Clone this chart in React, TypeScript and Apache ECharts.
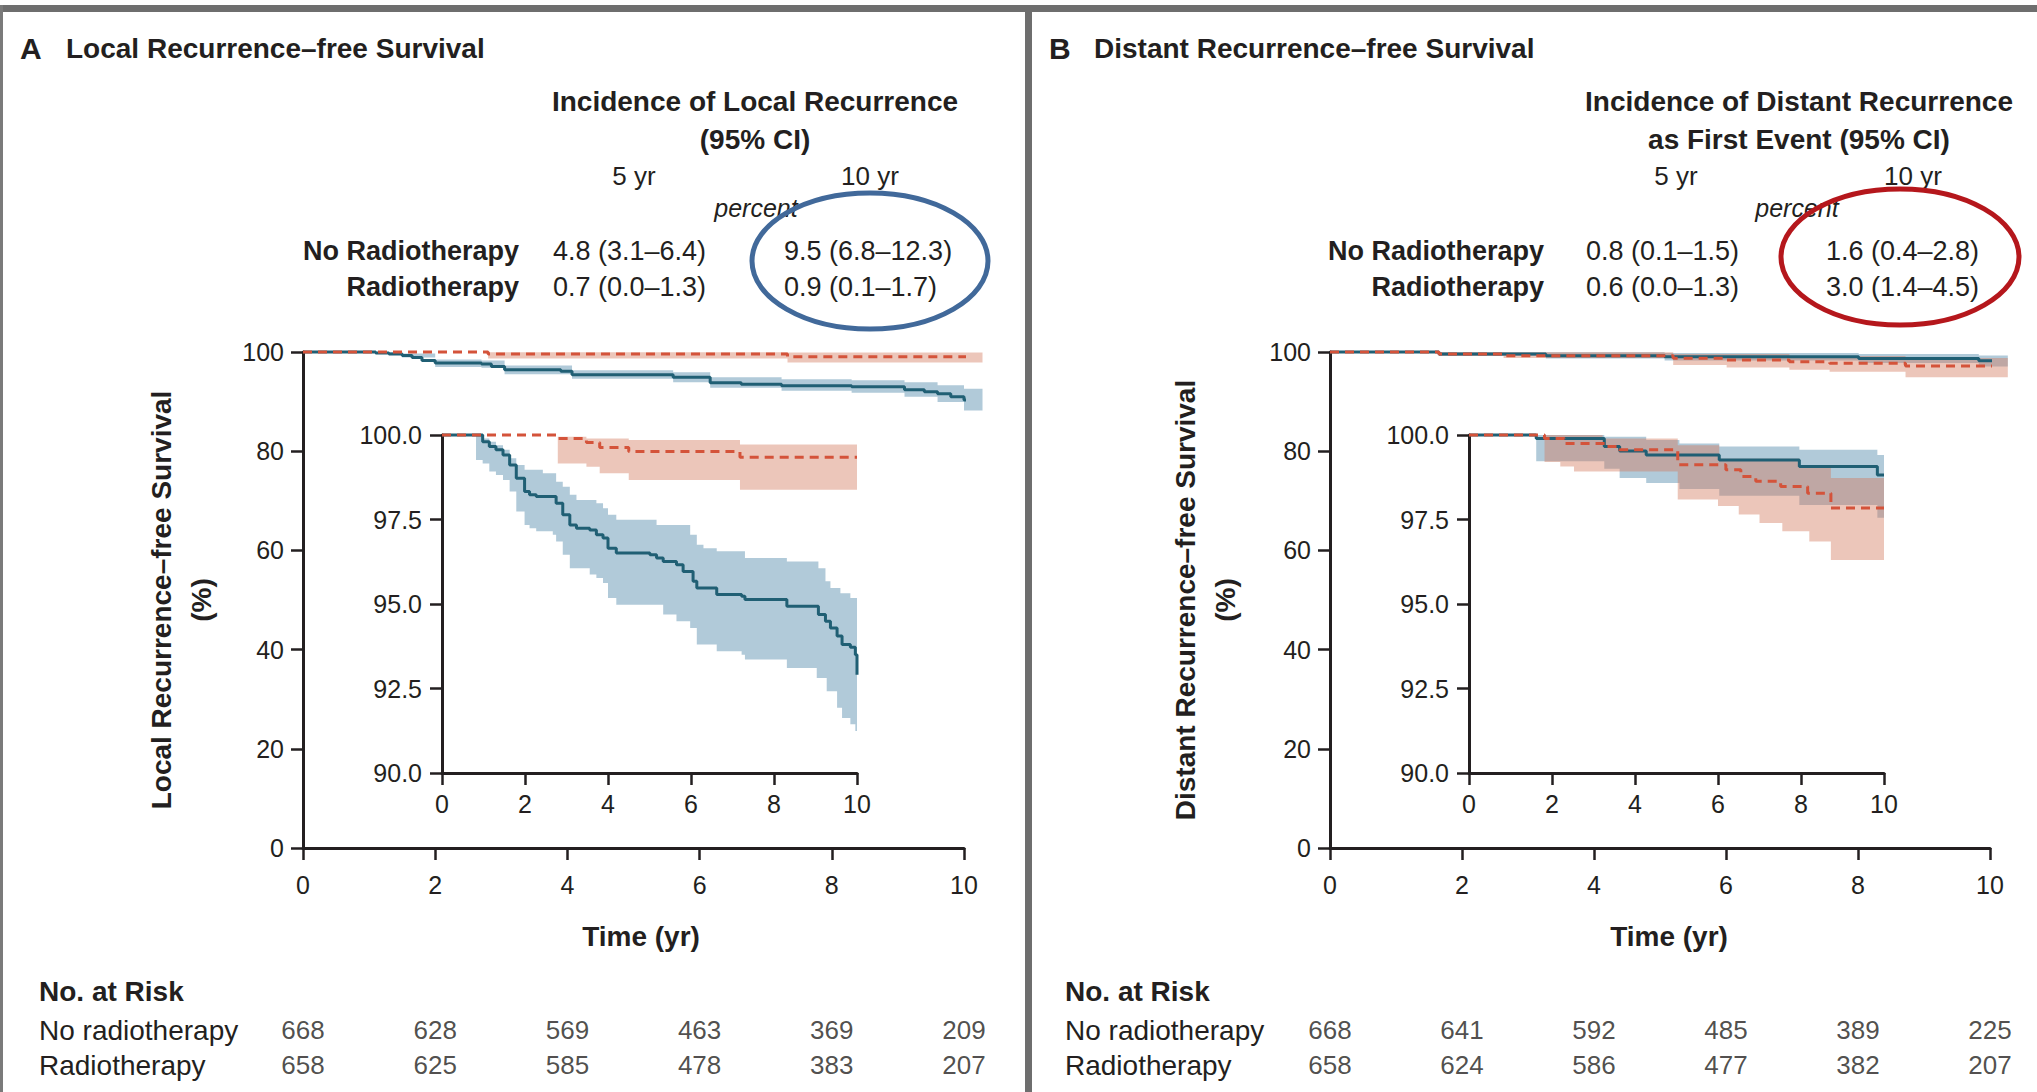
import React, { useEffect, useRef } from "react";
import * as echarts from "echarts";

const FONT = "'Liberation Sans', Arial, sans-serif";
const INK = "#231f20";
const BLUE = "#205f74";
const RED = "#d4533a";
const BLUE_BAND = "rgba(100,150,180,0.5)";
const RED_BAND = "rgba(210,120,90,0.42)";

type Pt = [number, number];

// ---------- Panel A, main plot ----------
const mainA_noRT_line: Pt[] = [[0,100],[0.9,100],[1.1,99.8],[1.3,99.6],[1.5,99.3],[1.65,98.9],[1.8,98.3],[2.0,97.8],[2.7,97.6],[2.85,97.1],[3.05,96.4],[3.9,96.1],[4.07,95.4],[5.6,94.9],[6.16,93.8],[6.63,93.5],[7.24,93.2],[8.3,93.0],[9.1,92.4],[9.4,92.0],[9.6,91.6],[9.8,91.0],[10.0,90.3],[10.28,90.3]];
const mainA_noRT_upper: Pt[] = [[0,100],[0.9,100],[1.5,99.7],[2.0,98.5],[2.7,98.3],[3.05,97.3],[4.07,96.3],[5.6,95.9],[6.16,94.9],[7.24,94.5],[8.3,94.3],[9.1,93.9],[9.6,93.3],[10.0,92.6],[10.28,92.6]];
const mainA_noRT_lower: Pt[] = [[0,100],[0.9,99.8],[1.5,98.9],[2.0,97.0],[2.7,96.8],[3.05,95.5],[4.07,94.6],[5.6,93.9],[6.16,92.8],[7.24,92.2],[8.3,91.8],[9.1,91.0],[9.6,89.9],[10.0,88.2],[10.28,87.5]];
const mainA_rt_line: Pt[] = [[0,100],[2.8,99.6],[7.33,99.06],[10.28,99.06]];
const mainA_rt_upper: Pt[] = [[2.8,99.95],[7.33,99.9],[10.28,99.9]];
const mainA_rt_lower: Pt[] = [[2.8,98.7],[7.33,97.9],[10.28,97.9]];

// ---------- Panel A, inset ----------
const insetA_noRT_line: Pt[] = [[0,100],[0.82,100],[0.98,99.8],[1.14,99.66],[1.3,99.56],[1.47,99.41],[1.63,99.11],[1.79,98.72],[1.99,98.33],[2.11,98.23],[2.27,98.18],[2.75,97.98],[2.91,97.64],[3.08,97.34],[3.24,97.24],[3.56,97.19],[3.72,97.05],[3.88,96.95],[4.0,96.65],[4.2,96.51],[5.01,96.46],[5.17,96.36],[5.33,96.26],[5.65,96.16],[5.81,95.96],[6.05,95.67],[6.14,95.47],[6.62,95.28],[7.22,95.23],[7.3,95.13],[8.31,94.93],[9.07,94.69],[9.24,94.49],[9.36,94.29],[9.52,94.05],[9.64,93.8],[9.84,93.72],[9.96,93.5],[10.0,92.91]];
const insetA_noRT_upper: Pt[] = [[0,100],[0.82,100],[0.98,99.9],[1.14,99.8],[1.3,99.7],[1.47,99.56],[1.63,99.31],[1.79,99.11],[1.99,98.97],[2.43,98.87],[2.75,98.62],[2.91,98.47],[3.08,98.23],[3.24,98.08],[3.72,97.98],[3.88,97.83],[4.0,97.64],[4.2,97.49],[5.17,97.34],[5.98,97.05],[6.14,96.75],[6.3,96.65],[6.62,96.56],[7.3,96.36],[8.31,96.26],[9.07,96.06],[9.24,95.67],[9.36,95.47],[9.6,95.32],[9.84,95.18],[10.0,95.08]];
const insetA_noRT_lower: Pt[] = [[0,100],[0.82,99.26],[0.98,99.16],[1.14,98.92],[1.3,98.82],[1.47,98.67],[1.63,98.33],[1.79,97.74],[1.99,97.34],[2.11,97.24],[2.27,97.15],[2.67,97.05],[2.75,96.85],[2.91,96.46],[3.08,96.06],[3.56,95.87],[3.72,95.77],[3.88,95.62],[4.0,95.18],[4.2,94.98],[5.33,94.69],[5.65,94.49],[5.98,94.29],[6.14,93.8],[6.62,93.6],[7.22,93.5],[7.3,93.36],[8.31,93.11],[9.03,92.81],[9.27,92.42],[9.52,91.93],[9.64,91.63],[9.84,91.44],[9.96,91.24],[10.0,90.55]];
const insetA_rt_line: Pt[] = [[0,100],[2.79,99.9],[3.48,99.78],[3.8,99.63],[4.5,99.51],[7.18,99.34],[10.0,99.34]];
const insetA_rt_upper: Pt[] = [[2.79,99.95],[3.48,99.9],[4.5,99.85],[7.18,99.72],[10.0,99.72]];
const insetA_rt_lower: Pt[] = [[2.79,99.16],[3.48,99.06],[3.8,98.87],[4.5,98.67],[7.18,98.38],[10.0,98.38]];

// ---------- Panel B, main plot ----------
const mainB_noRT_line: Pt[] = [[0,100],[1.65,99.6],[3.27,99.26],[5.07,99.06],[8.01,98.7],[9.83,98.25],[10.27,98.25]];
const mainB_noRT_upper: Pt[] = [[0,100],[1.65,99.95],[5.07,99.8],[8.01,99.6],[9.83,99.3],[10.27,99.3]];
const mainB_noRT_lower: Pt[] = [[0,100],[1.65,99.2],[3.27,98.7],[5.07,98.3],[8.01,97.8],[9.83,97.1],[10.27,97.0]];
const mainB_rt_line: Pt[] = [[0,100],[1.65,99.6],[2.63,99.26],[5.2,98.72],[6.01,98.39],[6.96,98.05],[7.57,97.72],[8.72,97.18],[10.27,97.18]];
const mainB_rt_upper: Pt[] = [[0,100],[1.65,99.95],[5.2,99.6],[6.96,99.2],[8.72,98.8],[10.27,98.8]];
const mainB_rt_lower: Pt[] = [[0,100],[1.65,99.2],[2.63,98.8],[5.2,97.4],[6.01,96.9],[6.96,96.4],[7.57,96.0],[8.72,94.9],[10.27,94.9]];

// ---------- Panel B, inset ----------
const insetB_noRT_line: Pt[] = [[0,100],[1.62,99.9],[3.26,99.66],[3.63,99.53],[4.27,99.41],[6.03,99.26],[7.96,99.07],[9.84,98.82],[10.0,98.82]];
const insetB_noRT_upper: Pt[] = [[1.62,100],[3.26,99.95],[4.27,99.85],[5.07,99.75],[6.03,99.66],[7.96,99.56],[9.84,99.41],[10.0,99.41]];
const insetB_noRT_lower: Pt[] = [[1.62,99.22],[2.0,99.22],[3.26,99.0],[3.63,98.73],[4.27,98.58],[5.07,98.4],[6.03,98.2],[7.96,97.93],[9.84,97.55],[10.0,97.55]];
const insetB_rt_line: Pt[] = [[0,100],[1.82,99.9],[2.3,99.75],[3.3,99.66],[3.62,99.56],[5.03,99.12],[6.19,98.97],[6.55,98.77],[6.91,98.63],[7.51,98.48],[8.16,98.28],[8.72,97.84],[10.0,97.84]];
const insetB_rt_upper: Pt[] = [[1.82,100],[3.22,99.9],[5.03,99.7],[6.03,99.3],[7.96,99.1],[8.72,98.73],[10.0,98.73]];
const insetB_rt_lower: Pt[] = [[1.82,99.2],[2.2,99.07],[2.53,98.92],[5.03,98.09],[6.0,97.9],[6.5,97.65],[7.0,97.4],[7.55,97.15],[8.2,96.85],[8.72,96.3],[10.0,96.3]];

// ---------- numbers at risk ----------
const riskTimes = [0, 2, 4, 6, 8, 10];
const riskA_noRT = [668, 628, 569, 463, 369, 209];
const riskA_rt = [658, 625, 585, 478, 383, 207];
const riskB_noRT = [668, 641, 592, 485, 389, 225];
const riskB_rt = [658, 624, 586, 477, 382, 207];
const riskRows = ["No radiotherapy", "Radiotherapy"];

// ---------- incidence tables ----------
const incRows = ["No Radiotherapy", "Radiotherapy"];
const incA5 = ["4.8 (3.1–6.4)", "0.7 (0.0–1.3)"];
const incA10 = ["9.5 (6.8–12.3)", "0.9 (0.1–1.7)"];
const incB5 = ["0.8 (0.1–1.5)", "0.6 (0.0–1.3)"];
const incB10 = ["1.6 (0.4–2.8)", "3.0 (1.4–4.5)"];

function stepPts(arr: Pt[]): Pt[] {
  const out: Pt[] = [];
  for (let i = 0; i < arr.length; i++) {
    out.push([arr[i][0], arr[i][1]]);
    const nx = i + 1 < arr.length ? arr[i + 1][0] : arr[i][0];
    out.push([nx, arr[i][1]]);
  }
  return out;
}

function band(axis: number, upper: Pt[], lower: Pt[], color: string) {
  return {
    type: "custom",
    xAxisIndex: axis,
    yAxisIndex: axis,
    silent: true,
    clip: false,
    z: 1,
    data: [[upper[0][0], upper[0][1]]],
    renderItem: (_p: any, api: any) => {
      const up = stepPts(upper);
      const lo = stepPts(lower).reverse();
      const pts = up.concat(lo).map((p) => api.coord(p));
      return { type: "polygon", shape: { points: pts }, style: { fill: color } };
    },
  };
}

function line(axis: number, data: Pt[], color: string, dashed: boolean, z: number) {
  return {
    type: "line",
    xAxisIndex: axis,
    yAxisIndex: axis,
    data,
    step: "end",
    symbol: "none",
    showSymbol: false,
    clip: false,
    silent: true,
    z,
    lineStyle: { color, width: 3, type: dashed ? [9, 6] : "solid" },
  };
}

function xAxis(grid: number, margin: number) {
  return {
    type: "value",
    gridIndex: grid,
    min: 0,
    max: 10,
    interval: 2,
    axisLine: { show: true, onZero: false, lineStyle: { color: INK, width: 3 } },
    axisTick: { show: true, length: 12, lineStyle: { color: INK, width: 2.5 } },
    axisLabel: { color: INK, fontSize: 25, fontFamily: FONT, margin },
    splitLine: { show: false },
  };
}

function yAxis(grid: number, min: number, max: number, interval: number, margin: number, dec: boolean) {
  return {
    type: "value",
    gridIndex: grid,
    min,
    max,
    interval,
    axisLine: { show: true, onZero: false, lineStyle: { color: INK, width: 3 } },
    axisTick: { show: true, length: 12, lineStyle: { color: INK, width: 2.5 } },
    axisLabel: {
      color: INK,
      fontSize: 25,
      fontFamily: FONT,
      margin,
      formatter: (v: number) => (dec ? v.toFixed(1) : String(v)),
    },
    splitLine: { show: false },
  };
}

function riskSeries(axis: number, rows: number[][]) {
  const data: any[] = [];
  rows.forEach((row, r) => row.forEach((v, i) => data.push([riskTimes[i], r, v])));
  return {
    type: "scatter",
    xAxisIndex: axis,
    yAxisIndex: axis,
    symbolSize: 1,
    silent: true,
    itemStyle: { color: "rgba(0,0,0,0)" },
    data,
    label: {
      show: true,
      position: "inside",
      formatter: (p: any) => String(p.value[2]),
      fontSize: 26,
      fontFamily: FONT,
      color: INK,
    },
  };
}

function txt(text: string, x: number, y: number, o: any = {}) {
  return {
    type: "text",
    x,
    y,
    z: 20,
    silent: true,
    rotation: o.rot || 0,
    style: {
      text,
      fill: o.fill || INK,
      fontFamily: FONT,
      fontSize: o.size || 26,
      fontWeight: o.weight || "normal",
      fontStyle: o.italic ? "italic" : "normal",
      align: o.align || "left",
      verticalAlign: "middle",
      textAlign: o.align || "left",
      textVerticalAlign: "middle",
      lineHeight: o.lh || undefined,
    },
  };
}

function panelTexts(p: {
  letter: string; title: string; lx: number; tx: number;
  head1: string; head2: string; hx: number; c5: number; c10: number; px: number;
  rowR: number; v5x: number; v10x: number; v5: string[]; v10: string[];
  ell: { cx: number; cy: number; rx: number; ry: number; color: string };
  yname: string; ynx: number; timeX: number; riskX: number;
}) {
  const els: any[] = [];
  els.push(txt(p.letter, p.lx, 48, { size: 30, weight: "bold" }));
  els.push(txt(p.title, p.tx, 48, { size: 28, weight: "bold" }));
  els.push(txt(p.head1, p.hx, 101, { size: 28, weight: "bold", align: "center" }));
  els.push(txt(p.head2, p.hx, 139, { size: 28, weight: "bold", align: "center" }));
  els.push(txt("5 yr", p.c5, 176, { size: 26, align: "center" }));
  els.push(txt("10 yr", p.c10, 176, { size: 26, align: "center" }));
  els.push(txt("percent", p.px, 208, { size: 25, italic: true, align: "center" }));
  incRows.forEach((r, i) => {
    const y = 251 + i * 36;
    els.push(txt(r, p.rowR, y, { size: 27, weight: "bold", align: "right" }));
    els.push(txt(p.v5[i], p.v5x, y, { size: 27 }));
    els.push(txt(p.v10[i], p.v10x, y, { size: 27 }));
  });
  els.push({
    type: "ellipse",
    z: 30,
    silent: true,
    shape: { cx: p.ell.cx, cy: p.ell.cy, rx: p.ell.rx, ry: p.ell.ry },
    style: { fill: "none", stroke: p.ell.color, lineWidth: 5 },
  });
  els.push(txt(p.yname + "\n(%)", p.ynx, 600, { size: 28, weight: "bold", align: "center", rot: Math.PI / 2, lh: 40 }));
  els.push(txt("Time (yr)", p.timeX, 936, { size: 28, weight: "bold", align: "center" }));
  els.push(txt("No. at Risk", p.riskX, 991, { size: 28, weight: "bold" }));
  riskRows.forEach((r, i) => els.push(txt(r, p.riskX, 1030 + i * 35, { size: 28 })));
  return els;
}

export default function App() {
  const ref = useRef<HTMLDivElement>(null);
  useEffect(() => {
    if (!ref.current) return;
    const chart = echarts.init(ref.current, null, { renderer: "svg" });
    const grids = [
      { left: 303, top: 352, width: 661, height: 496 },
      { left: 442, top: 435, width: 415, height: 338 },
      { left: 1330, top: 352, width: 660, height: 496 },
      { left: 1469, top: 435, width: 415, height: 338 },
      { left: 303, top: 1012.5, width: 661, height: 70 },
      { left: 1330, top: 1012.5, width: 660, height: 70 },
    ];
    const hiddenX = (g: number) => ({ type: "value", gridIndex: g, min: 0, max: 10, show: false });
    const hiddenY = (g: number) => ({ type: "category", gridIndex: g, data: riskRows, inverse: true, show: false });

    const graphic: any[] = [
      { type: "rect", silent: true, z: 0, shape: { x: 0, y: 5, width: 2037, height: 7 }, style: { fill: "#6e6e6e" } },
      { type: "rect", silent: true, z: 0, shape: { x: 0, y: 5, width: 3, height: 1087 }, style: { fill: "#7a7a7a" } },
      { type: "rect", silent: true, z: 0, shape: { x: 1025, y: 5, width: 7, height: 1087 }, style: { fill: "#6e6e6e" } },
      ...panelTexts({
        letter: "A", title: "Local Recurrence–free Survival", lx: 20, tx: 66,
        head1: "Incidence of Local Recurrence", head2: "(95% CI)", hx: 755, c5: 634, c10: 870, px: 756,
        rowR: 519, v5x: 553, v10x: 784, v5: incA5, v10: incA10,
        ell: { cx: 870, cy: 261, rx: 118, ry: 68, color: "#41699a" },
        yname: "Local Recurrence–free Survival", ynx: 181, timeX: 641, riskX: 39,
      }),
      ...panelTexts({
        letter: "B", title: "Distant Recurrence–free Survival", lx: 1049, tx: 1094,
        head1: "Incidence of Distant Recurrence", head2: "as First Event (95% CI)", hx: 1799, c5: 1676, c10: 1913, px: 1797,
        rowR: 1544, v5x: 1586, v10x: 1826, v5: incB5, v10: incB10,
        ell: { cx: 1900, cy: 257, rx: 119, ry: 68, color: "#b5171c" },
        yname: "Distant Recurrence–free Survival", ynx: 1205, timeX: 1669, riskX: 1065,
      }),
    ];

    chart.setOption({
      animation: false,
      backgroundColor: "#ffffff",
      grid: grids.map((g) => ({ ...g, containLabel: false })),
      xAxis: [xAxis(0, 24), xAxis(1, 18), xAxis(2, 24), xAxis(3, 18), hiddenX(4), hiddenX(5)],
      yAxis: [
        yAxis(0, 0, 100, 20, 19, false),
        yAxis(1, 90, 100, 2.5, 20, true),
        yAxis(2, 0, 100, 20, 19, false),
        yAxis(3, 90, 100, 2.5, 20, true),
        hiddenY(4),
        hiddenY(5),
      ],
      series: [
        band(0, mainA_noRT_upper, mainA_noRT_lower, BLUE_BAND),
        band(0, mainA_rt_upper, mainA_rt_lower, RED_BAND),
        line(0, mainA_noRT_line, BLUE, false, 3),
        line(0, mainA_rt_line, RED, true, 4),
        band(1, insetA_noRT_upper, insetA_noRT_lower, BLUE_BAND),
        band(1, insetA_rt_upper, insetA_rt_lower, RED_BAND),
        line(1, insetA_noRT_line, BLUE, false, 3),
        line(1, insetA_rt_line, RED, true, 4),
        band(2, mainB_noRT_upper, mainB_noRT_lower, BLUE_BAND),
        band(2, mainB_rt_upper, mainB_rt_lower, RED_BAND),
        line(2, mainB_noRT_line, BLUE, false, 3),
        line(2, mainB_rt_line, RED, true, 4),
        band(3, insetB_noRT_upper, insetB_noRT_lower, BLUE_BAND),
        band(3, insetB_rt_upper, insetB_rt_lower, RED_BAND),
        line(3, insetB_noRT_line, BLUE, false, 3),
        line(3, insetB_rt_line, RED, true, 4),
        riskSeries(4, [riskA_noRT, riskA_rt]),
        riskSeries(5, [riskB_noRT, riskB_rt]),
      ],
      graphic,
    });
    return () => chart.dispose();
  }, []);
  return (
    <div
      ref={ref}
      style={{ position: "absolute", left: 0, top: 0, width: 2037, height: 1092, background: "#fff" }}
    />
  );
}
